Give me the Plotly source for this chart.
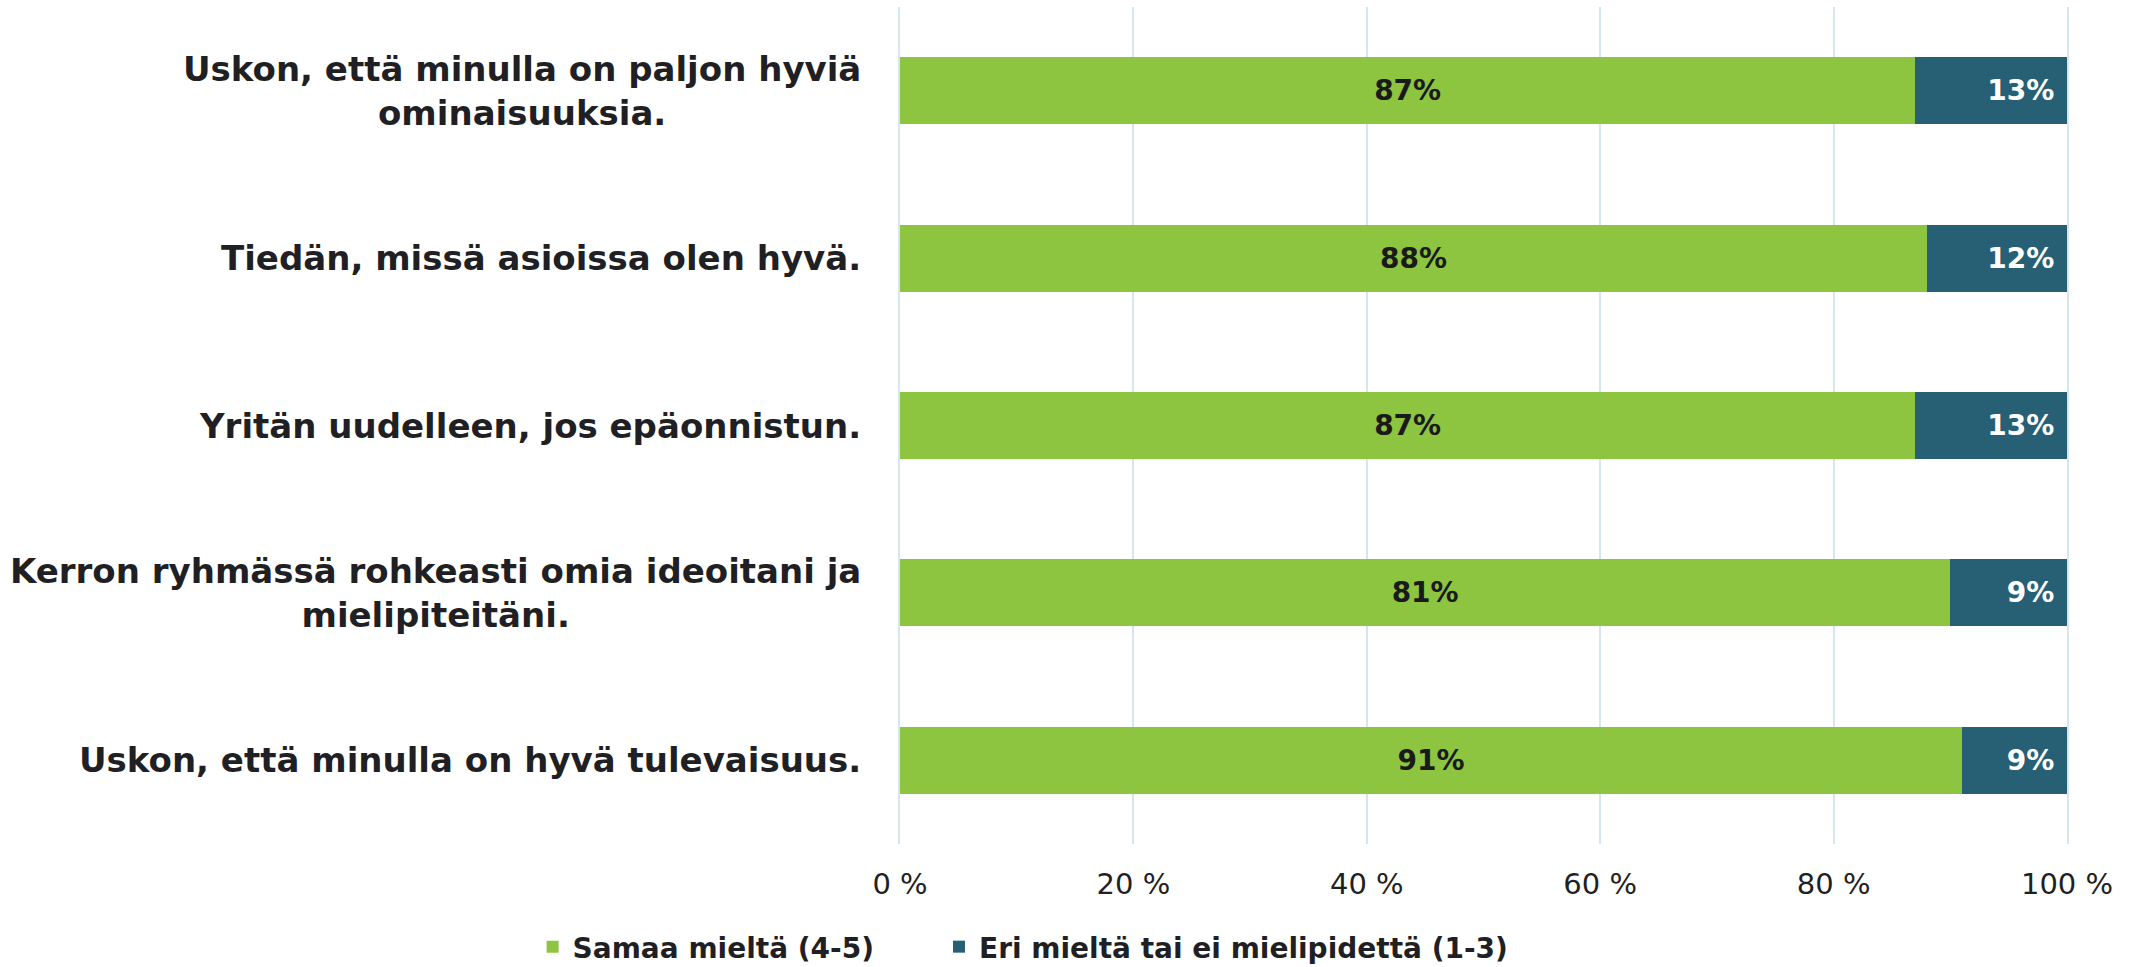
import plotly.graph_objects as go

categories = [
    "Uskon, että minulla on paljon hyviä<br>ominaisuuksia.",
    "Tiedän, missä asioissa olen hyvä.",
    "Yritän uudelleen, jos epäonnistun.",
    "Kerron ryhmässä rohkeasti omia ideoitani ja<br>mielipiteitäni.",
    "Uskon, että minulla on hyvä tulevaisuus.",
]
agree = [87, 88, 87, 81, 91]
disagree = [13, 12, 13, 9, 9]
series_names = ["Samaa mieltä (4-5)", "Eri mieltä tai ei mielipidettä (1-3)"]
tick_vals = [0, 20, 40, 60, 80, 100]
tick_text = ["0 %", "20 %", "40 %", "60 %", "80 %", "100 %"]

FONT = "DejaVu Sans"
GREEN = "#8DC440"
BLUE = "#275F74"
GRID = "#D6E6EF"
TXT = "#1f1f24"

fig = go.Figure()
fig.add_trace(go.Bar(
    y=categories, x=agree, orientation="h", name=series_names[0],
    marker=dict(color=GREEN, line=dict(width=0)),
    text=[f"{v}%" for v in agree], textposition="inside",
    insidetextanchor="middle",
    textfont=dict(family=FONT, size=28, color="#1a1a1a", weight=700),
    legend="legend",
))
fig.add_trace(go.Bar(
    y=categories, x=disagree, orientation="h", name=series_names[1],
    marker=dict(color=BLUE, line=dict(width=0)),
    text=[f"{v}%\u00a0" for v in disagree], textposition="inside",
    insidetextanchor="end",
    textfont=dict(family=FONT, size=28, color="white", weight=700),
    legend="legend2",
))

for c in categories:
    fig.add_annotation(
        x=0, xref="paper", y=c, yref="y", xanchor="right", yanchor="middle",
        xshift=-37, text=c, showarrow=False, align="center",
        font=dict(family=FONT, size=34, color=TXT, weight=700),
    )

legend_common = dict(
    orientation="h", xanchor="left", xref="container",
    y=-0.123, yanchor="middle", yref="paper",
    font=dict(family=FONT, size=28, color=TXT, weight=700),
    itemwidth=30, bgcolor="rgba(0,0,0,0)",
)

fig.update_layout(
    width=2139, height=967,
    barmode="stack", barnorm="percent", bargap=0.6,
    plot_bgcolor="white", paper_bgcolor="white",
    margin=dict(l=900, r=72, t=7, b=123, autoexpand=False),
    showlegend=True,
    legend=dict(x=0.249, **legend_common),
    legend2=dict(x=0.439, **legend_common),
)
fig.update_xaxes(
    range=[0, 100], tickvals=tick_vals, ticktext=tick_text,
    showgrid=True, gridcolor=GRID, gridwidth=2,
    zeroline=False, showline=False,
    tickfont=dict(family=FONT, size=29, color=TXT),
    ticklabelstandoff=20,
)
fig.update_yaxes(
    autorange="reversed", showticklabels=False, showgrid=False,
    zeroline=False, showline=True, mirror=True, linecolor=GRID, linewidth=2,
)

fig.write_html("out.html", config={"displayModeBar": False},
               post_script="document.body.style.margin='0';")
